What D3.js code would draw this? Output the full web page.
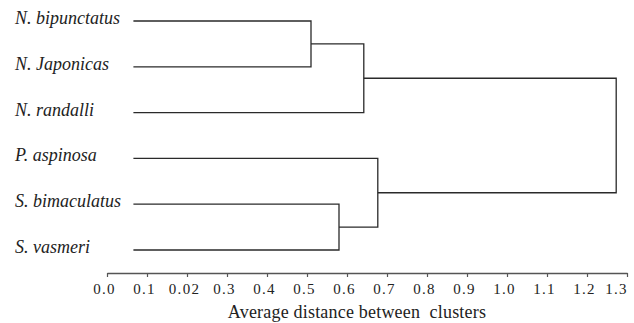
<!DOCTYPE html>
<html>
<head>
<meta charset="utf-8">
<script src="https://cdn.jsdelivr.net/npm/d3@7"></script>
<style>
  body { margin: 0; background: #fff; }
  svg { display: block; }
</style>
</head>
<body>
<svg id="chart" width="634" height="323"></svg>
<script>
// leaves, top to bottom
const leaves = ['N. bipunctatus', 'N. Japonicas', 'N. randalli', 'P. aspinosa', 'S. bimaculatus', 'S. vasmeri']
// linkage: node ids 0-5 are leaves, 6+ are the merges in this order
const mergeLeft = [0, 4, 6, 3, 8]
const mergeRight = [1, 5, 2, 7, 9]
const mergeHeight = [0.51, 0.58, 0.642, 0.677, 1.273]
// where the leaf stubs start on the distance axis
const leafStart = 0.066

const tickValues = [0, 0.1, 0.2, 0.3, 0.4, 0.5, 0.6, 0.7, 0.8, 0.9, 1.0, 1.1, 1.2, 1.3]
const tickLabels = ['0.0', '0.1', '0.02', '0.3', '0.4', '0.5', '0.6', '0.7', '0.8', '0.9', '1.0', '1.1', '1.2', '1.3']
const axisTitle = 'Average distance between  clusters'

const serif = '"Liberation Serif", "Times New Roman", serif'

const svg = d3.select('#chart')

const x = d3.scaleLinear().domain([0, 1.3]).range([107, 627])
const y = d3.scalePoint().domain(leaves).range([21, 250])

// node positions
const nodes = leaves.map(name => ({ x: x(leafStart), y: y(name) }))
mergeHeight.forEach((h, i) => {
  const a = nodes[mergeLeft[i]]
  const b = nodes[mergeRight[i]]
  nodes.push({ x: x(h), y: (a.y + b.y) / 2, a: a, b: b })
})

const links = svg.append('g')
  .attr('fill', 'none')
  .attr('stroke', '#2a2a2a')
  .attr('stroke-width', 1.3)

nodes.filter(n => n.a).forEach(n => {
  const path = d3.path()
  path.moveTo(n.a.x, n.a.y)
  path.lineTo(n.x, n.a.y)
  path.lineTo(n.x, n.b.y)
  path.lineTo(n.b.x, n.b.y)
  links.append('path').attr('d', path.toString())
})

// leaf labels
svg.append('g')
  .selectAll('text')
  .data(leaves)
  .join('text')
  .attr('x', 15)
  .attr('y', d => y(d) + 3)
  .style('font-family', serif)
  .style('font-size', '18px')
  .style('font-style', 'italic')
  .attr('fill', '#222')
  .text(d => d)

// x axis
const axis = d3.axisBottom(x)
  .tickValues(tickValues)
  .tickFormat((d, i) => tickLabels[i])
  .tickSizeInner(4)
  .tickSizeOuter(0)
  .tickPadding(6)

const gx = svg.append('g')
  .attr('transform', 'translate(0,273)')
  .call(axis)

gx.attr('font-family', serif)
gx.select('.domain').attr('stroke', '#555').attr('stroke-width', 1.3)
gx.selectAll('.tick line').attr('stroke', '#555').attr('stroke-width', 1.2)
gx.selectAll('.tick text')
  .style('font-family', serif)
  .style('font-size', '15px')
  .style('letter-spacing', '1.3px')
  .attr('fill', '#222')
  .attr('dx', (d, i) => i === tickValues.length - 1 ? -11 : -3)

svg.append('text')
  .attr('x', 357)
  .attr('y', 318)
  .attr('text-anchor', 'middle')
  .style('font-family', serif)
  .style('font-size', '18px')
  .style('letter-spacing', '0.2px')
  .style('white-space', 'pre')
  .attr('fill', '#222')
  .text(axisTitle)
</script>
</body>
</html>
